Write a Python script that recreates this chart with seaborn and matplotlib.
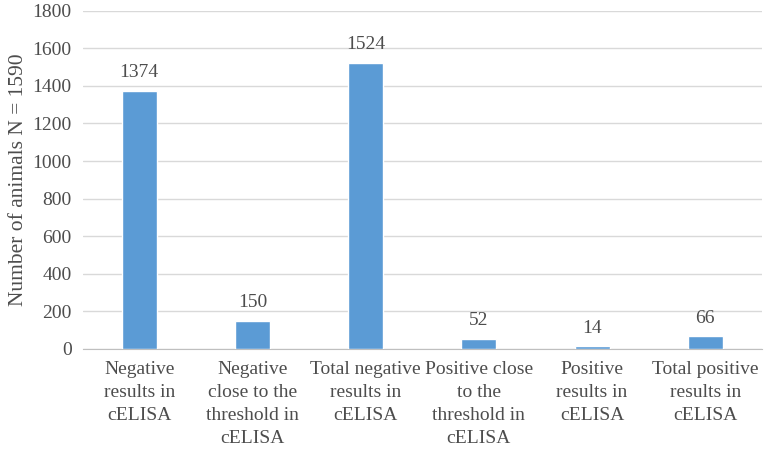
import matplotlib
matplotlib.use("Agg")
import matplotlib.pyplot as plt
import pandas as pd
import seaborn as sns

categories = [
    "Negative\nresults in\ncELISA",
    "Negative\nclose to the\nthreshold in\ncELISA",
    "Total negative\nresults in\ncELISA",
    "Positive close\nto the\nthreshold in\ncELISA",
    "Positive\nresults in\ncELISA",
    "Total positive\nresults in\ncELISA",
]
counts = [1374, 150, 1524, 52, 14, 66]
y_ticks = [0, 200, 400, 600, 800, 1000, 1200, 1400, 1600, 1800]

sns.set_style("white")
plt.rcParams["font.family"] = ["Liberation Serif", "DejaVu Serif"]

df = pd.DataFrame({"cat": categories, "n": counts})
txt = "#4D4D4D"

fig = plt.figure(figsize=(7.65, 4.49), dpi=100)
ax = fig.add_axes([0.108, 0.223, 0.888, 0.753])
sns.barplot(data=df, x="cat", y="n", color="#5B9BD5", width=0.31,
            saturation=1, ax=ax, zorder=3)

ax.set_ylim(0, 1800)
ax.set_yticks(y_ticks)
ax.yaxis.grid(True, color="#D9D9D9", linewidth=1, zorder=0)
for s in ["top", "right", "left"]:
    ax.spines[s].set_visible(False)
ax.spines["bottom"].set_color("#BFBFBF")
ax.tick_params(axis="both", length=0, labelsize=14, colors=txt, pad=8)
ax.tick_params(axis="x", pad=9)
for lab in ax.get_xticklabels():
    lab.set_linespacing(1.45)
ax.set_xlabel("")
ax.set_ylabel("Number of animals N = 1590", fontsize=15.5, color=txt, labelpad=3)

for p, v in zip(ax.patches, counts):
    ax.annotate(str(v), (p.get_x() + p.get_width() / 2, p.get_height()),
                xytext=(0, 7), textcoords="offset points", ha="center", va="bottom",
                fontsize=14, color=txt)

fig.savefig("out.png", dpi=100)
